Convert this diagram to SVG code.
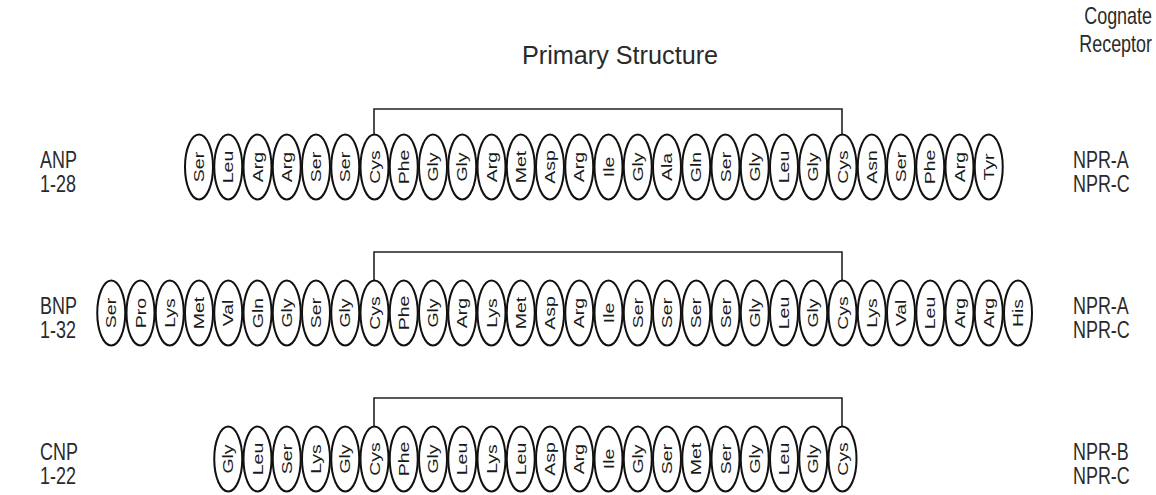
<svg xmlns="http://www.w3.org/2000/svg" width="1156" height="495" viewBox="0 0 1156 495">
<style>
text{font-family:"Liberation Sans",Arial,sans-serif;fill:#1a1a1a}
.bead{fill:#fff;stroke:#111;stroke-width:2}
.aa text{font-size:15px;text-anchor:middle;dominant-baseline:central}
.lbl{font-size:23px;fill:#2a2a2a}
.hdr{font-size:23px;fill:#2a2a2a}
.ttl{font-size:26px;fill:#2a2a2a}
.br{fill:none;stroke:#222;stroke-width:1.6}
</style>
<defs>
<ellipse id="e" class="bead" cx="0" cy="0" rx="14" ry="32.5"/>
</defs>
<g id="header">
<text class="ttl" transform="translate(620,64) scale(0.97,1)" text-anchor="middle">Primary Structure</text>
<text class="hdr" transform="translate(1152,24) scale(0.78,1)" text-anchor="end">Cognate</text>
<text class="hdr" transform="translate(1152,52) scale(0.78,1)" text-anchor="end">Receptor</text>
</g>

<g id="connectors">
<path class="br" d="M374,134.5V109H842V134.5"/>
<path class="br" d="M374,280.5V252H842V280.5"/>
<path class="br" d="M374,426.5V398H842V426.5"/>
</g>

<g id="ANP-label"><text class="lbl" transform="translate(40,168) scale(0.78,1)">ANP</text><text class="lbl" transform="translate(40,192) scale(0.78,1)">1-28</text></g>
<g id="BNP-label"><text class="lbl" transform="translate(40,314) scale(0.78,1)">BNP</text><text class="lbl" transform="translate(40,338) scale(0.78,1)">1-32</text></g>
<g id="CNP-label"><text class="lbl" transform="translate(40,460) scale(0.78,1)">CNP</text><text class="lbl" transform="translate(40,484) scale(0.78,1)">1-22</text></g>

<g id="ANP-receptor"><text class="lbl" transform="translate(1073,168) scale(0.78,1)">NPR-A</text><text class="lbl" transform="translate(1073,192) scale(0.78,1)">NPR-C</text></g>
<g id="BNP-receptor"><text class="lbl" transform="translate(1073,314) scale(0.78,1)">NPR-A</text><text class="lbl" transform="translate(1073,338) scale(0.78,1)">NPR-C</text></g>
<g id="CNP-receptor"><text class="lbl" transform="translate(1073,460) scale(0.78,1)">NPR-B</text><text class="lbl" transform="translate(1073,484) scale(0.78,1)">NPR-C</text></g>

<g id="ANP" class="aa">
<g transform="translate(199,167)"><use href="#e"/><text transform="rotate(-90) scale(1.3,1)">Ser</text></g>
<g transform="translate(228.25,167)"><use href="#e"/><text transform="rotate(-90) scale(1.3,1)">Leu</text></g>
<g transform="translate(257.5,167)"><use href="#e"/><text transform="rotate(-90) scale(1.3,1)">Arg</text></g>
<g transform="translate(286.75,167)"><use href="#e"/><text transform="rotate(-90) scale(1.3,1)">Arg</text></g>
<g transform="translate(316,167)"><use href="#e"/><text transform="rotate(-90) scale(1.3,1)">Ser</text></g>
<g transform="translate(345.25,167)"><use href="#e"/><text transform="rotate(-90) scale(1.3,1)">Ser</text></g>
<g transform="translate(374.5,167)"><use href="#e"/><text transform="rotate(-90) scale(1.3,1)">Cys</text></g>
<g transform="translate(403.75,167)"><use href="#e"/><text transform="rotate(-90) scale(1.3,1)">Phe</text></g>
<g transform="translate(433,167)"><use href="#e"/><text transform="rotate(-90) scale(1.3,1)">Gly</text></g>
<g transform="translate(462.25,167)"><use href="#e"/><text transform="rotate(-90) scale(1.3,1)">Gly</text></g>
<g transform="translate(491.5,167)"><use href="#e"/><text transform="rotate(-90) scale(1.3,1)">Arg</text></g>
<g transform="translate(520.75,167)"><use href="#e"/><text transform="rotate(-90) scale(1.3,1)">Met</text></g>
<g transform="translate(550,167)"><use href="#e"/><text transform="rotate(-90) scale(1.3,1)">Asp</text></g>
<g transform="translate(579.25,167)"><use href="#e"/><text transform="rotate(-90) scale(1.3,1)">Arg</text></g>
<g transform="translate(608.5,167)"><use href="#e"/><text transform="rotate(-90) scale(1.3,1)">Ile</text></g>
<g transform="translate(637.75,167)"><use href="#e"/><text transform="rotate(-90) scale(1.3,1)">Gly</text></g>
<g transform="translate(667,167)"><use href="#e"/><text transform="rotate(-90) scale(1.3,1)">Ala</text></g>
<g transform="translate(696.25,167)"><use href="#e"/><text transform="rotate(-90) scale(1.3,1)">Gln</text></g>
<g transform="translate(725.5,167)"><use href="#e"/><text transform="rotate(-90) scale(1.3,1)">Ser</text></g>
<g transform="translate(754.75,167)"><use href="#e"/><text transform="rotate(-90) scale(1.3,1)">Gly</text></g>
<g transform="translate(784,167)"><use href="#e"/><text transform="rotate(-90) scale(1.3,1)">Leu</text></g>
<g transform="translate(813.25,167)"><use href="#e"/><text transform="rotate(-90) scale(1.3,1)">Gly</text></g>
<g transform="translate(842.5,167)"><use href="#e"/><text transform="rotate(-90) scale(1.3,1)">Cys</text></g>
<g transform="translate(871.75,167)"><use href="#e"/><text transform="rotate(-90) scale(1.3,1)">Asn</text></g>
<g transform="translate(901,167)"><use href="#e"/><text transform="rotate(-90) scale(1.3,1)">Ser</text></g>
<g transform="translate(930.25,167)"><use href="#e"/><text transform="rotate(-90) scale(1.3,1)">Phe</text></g>
<g transform="translate(959.5,167)"><use href="#e"/><text transform="rotate(-90) scale(1.3,1)">Arg</text></g>
<g transform="translate(988.75,167)"><use href="#e"/><text transform="rotate(-90) scale(1.3,1)">Tyr</text></g>
</g>

<g id="BNP" class="aa">
<g transform="translate(111.25,313)"><use href="#e"/><text transform="rotate(-90) scale(1.3,1)">Ser</text></g>
<g transform="translate(140.5,313)"><use href="#e"/><text transform="rotate(-90) scale(1.3,1)">Pro</text></g>
<g transform="translate(169.75,313)"><use href="#e"/><text transform="rotate(-90) scale(1.3,1)">Lys</text></g>
<g transform="translate(199,313)"><use href="#e"/><text transform="rotate(-90) scale(1.3,1)">Met</text></g>
<g transform="translate(228.25,313)"><use href="#e"/><text transform="rotate(-90) scale(1.3,1)">Val</text></g>
<g transform="translate(257.5,313)"><use href="#e"/><text transform="rotate(-90) scale(1.3,1)">Gln</text></g>
<g transform="translate(286.75,313)"><use href="#e"/><text transform="rotate(-90) scale(1.3,1)">Gly</text></g>
<g transform="translate(316,313)"><use href="#e"/><text transform="rotate(-90) scale(1.3,1)">Ser</text></g>
<g transform="translate(345.25,313)"><use href="#e"/><text transform="rotate(-90) scale(1.3,1)">Gly</text></g>
<g transform="translate(374.5,313)"><use href="#e"/><text transform="rotate(-90) scale(1.3,1)">Cys</text></g>
<g transform="translate(403.75,313)"><use href="#e"/><text transform="rotate(-90) scale(1.3,1)">Phe</text></g>
<g transform="translate(433,313)"><use href="#e"/><text transform="rotate(-90) scale(1.3,1)">Gly</text></g>
<g transform="translate(462.25,313)"><use href="#e"/><text transform="rotate(-90) scale(1.3,1)">Arg</text></g>
<g transform="translate(491.5,313)"><use href="#e"/><text transform="rotate(-90) scale(1.3,1)">Lys</text></g>
<g transform="translate(520.75,313)"><use href="#e"/><text transform="rotate(-90) scale(1.3,1)">Met</text></g>
<g transform="translate(550,313)"><use href="#e"/><text transform="rotate(-90) scale(1.3,1)">Asp</text></g>
<g transform="translate(579.25,313)"><use href="#e"/><text transform="rotate(-90) scale(1.3,1)">Arg</text></g>
<g transform="translate(608.5,313)"><use href="#e"/><text transform="rotate(-90) scale(1.3,1)">Ile</text></g>
<g transform="translate(637.75,313)"><use href="#e"/><text transform="rotate(-90) scale(1.3,1)">Ser</text></g>
<g transform="translate(667,313)"><use href="#e"/><text transform="rotate(-90) scale(1.3,1)">Ser</text></g>
<g transform="translate(696.25,313)"><use href="#e"/><text transform="rotate(-90) scale(1.3,1)">Ser</text></g>
<g transform="translate(725.5,313)"><use href="#e"/><text transform="rotate(-90) scale(1.3,1)">Ser</text></g>
<g transform="translate(754.75,313)"><use href="#e"/><text transform="rotate(-90) scale(1.3,1)">Gly</text></g>
<g transform="translate(784,313)"><use href="#e"/><text transform="rotate(-90) scale(1.3,1)">Leu</text></g>
<g transform="translate(813.25,313)"><use href="#e"/><text transform="rotate(-90) scale(1.3,1)">Gly</text></g>
<g transform="translate(842.5,313)"><use href="#e"/><text transform="rotate(-90) scale(1.3,1)">Cys</text></g>
<g transform="translate(871.75,313)"><use href="#e"/><text transform="rotate(-90) scale(1.3,1)">Lys</text></g>
<g transform="translate(901,313)"><use href="#e"/><text transform="rotate(-90) scale(1.3,1)">Val</text></g>
<g transform="translate(930.25,313)"><use href="#e"/><text transform="rotate(-90) scale(1.3,1)">Leu</text></g>
<g transform="translate(959.5,313)"><use href="#e"/><text transform="rotate(-90) scale(1.3,1)">Arg</text></g>
<g transform="translate(988.75,313)"><use href="#e"/><text transform="rotate(-90) scale(1.3,1)">Arg</text></g>
<g transform="translate(1018,313)"><use href="#e"/><text transform="rotate(-90) scale(1.3,1)">His</text></g>
</g>

<g id="CNP" class="aa">
<g transform="translate(228.25,459)"><use href="#e"/><text transform="rotate(-90) scale(1.3,1)">Gly</text></g>
<g transform="translate(257.5,459)"><use href="#e"/><text transform="rotate(-90) scale(1.3,1)">Leu</text></g>
<g transform="translate(286.75,459)"><use href="#e"/><text transform="rotate(-90) scale(1.3,1)">Ser</text></g>
<g transform="translate(316,459)"><use href="#e"/><text transform="rotate(-90) scale(1.3,1)">Lys</text></g>
<g transform="translate(345.25,459)"><use href="#e"/><text transform="rotate(-90) scale(1.3,1)">Gly</text></g>
<g transform="translate(374.5,459)"><use href="#e"/><text transform="rotate(-90) scale(1.3,1)">Cys</text></g>
<g transform="translate(403.75,459)"><use href="#e"/><text transform="rotate(-90) scale(1.3,1)">Phe</text></g>
<g transform="translate(433,459)"><use href="#e"/><text transform="rotate(-90) scale(1.3,1)">Gly</text></g>
<g transform="translate(462.25,459)"><use href="#e"/><text transform="rotate(-90) scale(1.3,1)">Leu</text></g>
<g transform="translate(491.5,459)"><use href="#e"/><text transform="rotate(-90) scale(1.3,1)">Lys</text></g>
<g transform="translate(520.75,459)"><use href="#e"/><text transform="rotate(-90) scale(1.3,1)">Leu</text></g>
<g transform="translate(550,459)"><use href="#e"/><text transform="rotate(-90) scale(1.3,1)">Asp</text></g>
<g transform="translate(579.25,459)"><use href="#e"/><text transform="rotate(-90) scale(1.3,1)">Arg</text></g>
<g transform="translate(608.5,459)"><use href="#e"/><text transform="rotate(-90) scale(1.3,1)">Ile</text></g>
<g transform="translate(637.75,459)"><use href="#e"/><text transform="rotate(-90) scale(1.3,1)">Gly</text></g>
<g transform="translate(667,459)"><use href="#e"/><text transform="rotate(-90) scale(1.3,1)">Ser</text></g>
<g transform="translate(696.25,459)"><use href="#e"/><text transform="rotate(-90) scale(1.3,1)">Met</text></g>
<g transform="translate(725.5,459)"><use href="#e"/><text transform="rotate(-90) scale(1.3,1)">Ser</text></g>
<g transform="translate(754.75,459)"><use href="#e"/><text transform="rotate(-90) scale(1.3,1)">Gly</text></g>
<g transform="translate(784,459)"><use href="#e"/><text transform="rotate(-90) scale(1.3,1)">Leu</text></g>
<g transform="translate(813.25,459)"><use href="#e"/><text transform="rotate(-90) scale(1.3,1)">Gly</text></g>
<g transform="translate(842.5,459)"><use href="#e"/><text transform="rotate(-90) scale(1.3,1)">Cys</text></g>
</g>
</svg>
